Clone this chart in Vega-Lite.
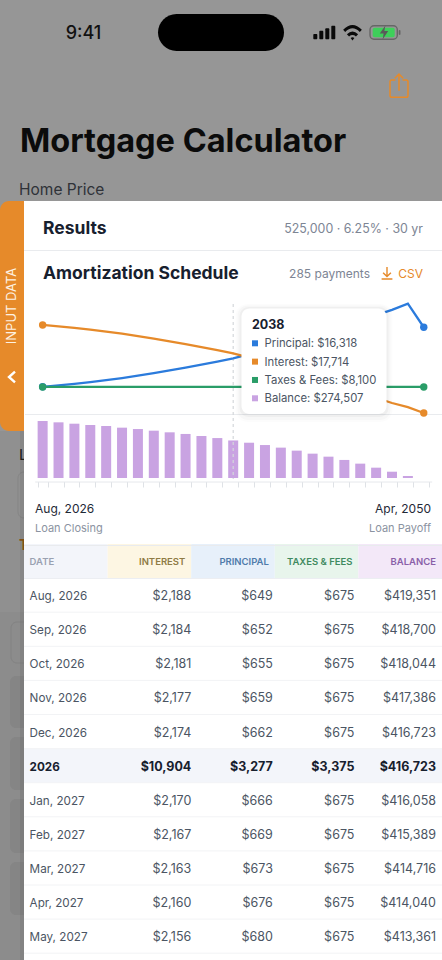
{
  "$schema": "https://vega.github.io/schema/vega-lite/v6.json",
  "autosize": {"type": "fit", "contains": "padding"},
  "padding": 0,
  "width": 442,
  "height": 960,
  "background": "#969696",
  "config": {"font": "Inter", "view": {"stroke": null}, "text": {"baseline": "middle", "align": "left", "dy": 1}},
  "data": {"values": [{}]},
  "datasets": {
    "yearly": [
      {"year": 2026, "measure": "Principal", "value": 8150}, {"year": 2026, "measure": "Interest", "value": 25894}, {"year": 2026, "measure": "Taxes & Fees", "value": 8100}, {"year": 2026, "measure": "Balance", "value": 416723},
      {"year": 2027, "measure": "Principal", "value": 8540}, {"year": 2027, "measure": "Interest", "value": 25500}, {"year": 2027, "measure": "Taxes & Fees", "value": 8100}, {"year": 2027, "measure": "Balance", "value": 407000},
      {"year": 2028, "measure": "Principal", "value": 9000}, {"year": 2028, "measure": "Interest", "value": 25050}, {"year": 2028, "measure": "Taxes & Fees", "value": 8100}, {"year": 2028, "measure": "Balance", "value": 397000},
      {"year": 2029, "measure": "Principal", "value": 9500}, {"year": 2029, "measure": "Interest", "value": 24550}, {"year": 2029, "measure": "Taxes & Fees", "value": 8100}, {"year": 2029, "measure": "Balance", "value": 387500},
      {"year": 2030, "measure": "Principal", "value": 10050}, {"year": 2030, "measure": "Interest", "value": 24000}, {"year": 2030, "measure": "Taxes & Fees", "value": 8100}, {"year": 2030, "measure": "Balance", "value": 380000},
      {"year": 2031, "measure": "Principal", "value": 10650}, {"year": 2031, "measure": "Interest", "value": 23400}, {"year": 2031, "measure": "Taxes & Fees", "value": 8100}, {"year": 2031, "measure": "Balance", "value": 368000},
      {"year": 2032, "measure": "Principal", "value": 11340}, {"year": 2032, "measure": "Interest", "value": 22700}, {"year": 2032, "measure": "Taxes & Fees", "value": 8100}, {"year": 2032, "measure": "Balance", "value": 358000},
      {"year": 2033, "measure": "Principal", "value": 12040}, {"year": 2033, "measure": "Interest", "value": 22000}, {"year": 2033, "measure": "Taxes & Fees", "value": 8100}, {"year": 2033, "measure": "Balance", "value": 346000},
      {"year": 2034, "measure": "Principal", "value": 12840}, {"year": 2034, "measure": "Interest", "value": 21200}, {"year": 2034, "measure": "Taxes & Fees", "value": 8100}, {"year": 2034, "measure": "Balance", "value": 334000},
      {"year": 2035, "measure": "Principal", "value": 13640}, {"year": 2035, "measure": "Interest", "value": 20400}, {"year": 2035, "measure": "Taxes & Fees", "value": 8100}, {"year": 2035, "measure": "Balance", "value": 322000},
      {"year": 2036, "measure": "Principal", "value": 14500}, {"year": 2036, "measure": "Interest", "value": 19550}, {"year": 2036, "measure": "Taxes & Fees", "value": 8100}, {"year": 2036, "measure": "Balance", "value": 307000},
      {"year": 2037, "measure": "Principal", "value": 15400}, {"year": 2037, "measure": "Interest", "value": 18650}, {"year": 2037, "measure": "Taxes & Fees", "value": 8100}, {"year": 2037, "measure": "Balance", "value": 292000},
      {"year": 2038, "measure": "Principal", "value": 16318}, {"year": 2038, "measure": "Interest", "value": 17714}, {"year": 2038, "measure": "Taxes & Fees", "value": 8100}, {"year": 2038, "measure": "Balance", "value": 274507},
      {"year": 2039, "measure": "Principal", "value": 17540}, {"year": 2039, "measure": "Interest", "value": 16500}, {"year": 2039, "measure": "Taxes & Fees", "value": 8100}, {"year": 2039, "measure": "Balance", "value": 258000},
      {"year": 2040, "measure": "Principal", "value": 18640}, {"year": 2040, "measure": "Interest", "value": 15400}, {"year": 2040, "measure": "Taxes & Fees", "value": 8100}, {"year": 2040, "measure": "Balance", "value": 241000},
      {"year": 2041, "measure": "Principal", "value": 19840}, {"year": 2041, "measure": "Interest", "value": 14200}, {"year": 2041, "measure": "Taxes & Fees", "value": 8100}, {"year": 2041, "measure": "Balance", "value": 222000},
      {"year": 2042, "measure": "Principal", "value": 21140}, {"year": 2042, "measure": "Interest", "value": 12900}, {"year": 2042, "measure": "Taxes & Fees", "value": 8100}, {"year": 2042, "measure": "Balance", "value": 200000},
      {"year": 2043, "measure": "Principal", "value": 22540}, {"year": 2043, "measure": "Interest", "value": 11500}, {"year": 2043, "measure": "Taxes & Fees", "value": 8100}, {"year": 2043, "measure": "Balance", "value": 178000},
      {"year": 2044, "measure": "Principal", "value": 24040}, {"year": 2044, "measure": "Interest", "value": 10000}, {"year": 2044, "measure": "Taxes & Fees", "value": 8100}, {"year": 2044, "measure": "Balance", "value": 156000},
      {"year": 2045, "measure": "Principal", "value": 25540}, {"year": 2045, "measure": "Interest", "value": 8500}, {"year": 2045, "measure": "Taxes & Fees", "value": 8100}, {"year": 2045, "measure": "Balance", "value": 132000},
      {"year": 2046, "measure": "Principal", "value": 27240}, {"year": 2046, "measure": "Interest", "value": 6800}, {"year": 2046, "measure": "Taxes & Fees", "value": 8100}, {"year": 2046, "measure": "Balance", "value": 105000},
      {"year": 2047, "measure": "Principal", "value": 28700}, {"year": 2047, "measure": "Interest", "value": 5000}, {"year": 2047, "measure": "Taxes & Fees", "value": 8100}, {"year": 2047, "measure": "Balance", "value": 75500},
      {"year": 2048, "measure": "Principal", "value": 30200}, {"year": 2048, "measure": "Interest", "value": 3500}, {"year": 2048, "measure": "Taxes & Fees", "value": 8100}, {"year": 2048, "measure": "Balance", "value": 46000},
      {"year": 2049, "measure": "Principal", "value": 32000}, {"year": 2049, "measure": "Interest", "value": 2300}, {"year": 2049, "measure": "Taxes & Fees", "value": 8100}, {"year": 2049, "measure": "Balance", "value": 14600},
      {"year": 2050, "measure": "Principal", "value": 25230}, {"year": 2050, "measure": "Interest", "value": 640}, {"year": 2050, "measure": "Taxes & Fees", "value": 8100}, {"year": 2050, "measure": "Balance", "value": 0}
    ],
    "columns": [
      {"date": "header", "column": "DATE"}, {"date": "header", "column": "INTEREST"}, {"date": "header", "column": "PRINCIPAL"}, {"date": "header", "column": "TAXES & FEES"}, {"date": "header", "column": "BALANCE"}
    ],
    "schedule": [
      {"date": "Aug, 2026", "measure": "Interest", "value": 2188}, {"date": "Aug, 2026", "measure": "Principal", "value": 649}, {"date": "Aug, 2026", "measure": "Taxes & Fees", "value": 675}, {"date": "Aug, 2026", "measure": "Balance", "value": 419351},
      {"date": "Sep, 2026", "measure": "Interest", "value": 2184}, {"date": "Sep, 2026", "measure": "Principal", "value": 652}, {"date": "Sep, 2026", "measure": "Taxes & Fees", "value": 675}, {"date": "Sep, 2026", "measure": "Balance", "value": 418700},
      {"date": "Oct, 2026", "measure": "Interest", "value": 2181}, {"date": "Oct, 2026", "measure": "Principal", "value": 655}, {"date": "Oct, 2026", "measure": "Taxes & Fees", "value": 675}, {"date": "Oct, 2026", "measure": "Balance", "value": 418044},
      {"date": "Nov, 2026", "measure": "Interest", "value": 2177}, {"date": "Nov, 2026", "measure": "Principal", "value": 659}, {"date": "Nov, 2026", "measure": "Taxes & Fees", "value": 675}, {"date": "Nov, 2026", "measure": "Balance", "value": 417386},
      {"date": "Dec, 2026", "measure": "Interest", "value": 2174}, {"date": "Dec, 2026", "measure": "Principal", "value": 662}, {"date": "Dec, 2026", "measure": "Taxes & Fees", "value": 675}, {"date": "Dec, 2026", "measure": "Balance", "value": 416723},
      {"date": "2026", "measure": "Interest", "value": 10904}, {"date": "2026", "measure": "Principal", "value": 3277}, {"date": "2026", "measure": "Taxes & Fees", "value": 3375}, {"date": "2026", "measure": "Balance", "value": 416723},
      {"date": "Jan, 2027", "measure": "Interest", "value": 2170}, {"date": "Jan, 2027", "measure": "Principal", "value": 666}, {"date": "Jan, 2027", "measure": "Taxes & Fees", "value": 675}, {"date": "Jan, 2027", "measure": "Balance", "value": 416058},
      {"date": "Feb, 2027", "measure": "Interest", "value": 2167}, {"date": "Feb, 2027", "measure": "Principal", "value": 669}, {"date": "Feb, 2027", "measure": "Taxes & Fees", "value": 675}, {"date": "Feb, 2027", "measure": "Balance", "value": 415389},
      {"date": "Mar, 2027", "measure": "Interest", "value": 2163}, {"date": "Mar, 2027", "measure": "Principal", "value": 673}, {"date": "Mar, 2027", "measure": "Taxes & Fees", "value": 675}, {"date": "Mar, 2027", "measure": "Balance", "value": 414716},
      {"date": "Apr, 2027", "measure": "Interest", "value": 2160}, {"date": "Apr, 2027", "measure": "Principal", "value": 676}, {"date": "Apr, 2027", "measure": "Taxes & Fees", "value": 675}, {"date": "Apr, 2027", "measure": "Balance", "value": 414040},
      {"date": "May, 2027", "measure": "Interest", "value": 2156}, {"date": "May, 2027", "measure": "Principal", "value": 680}, {"date": "May, 2027", "measure": "Taxes & Fees", "value": 675}, {"date": "May, 2027", "measure": "Balance", "value": 413361}
    ]
  },
  "resolve": {"scale": {"x": "independent", "y": "independent", "color": "independent", "fill": "independent"}, "axis": {"x": "independent", "y": "independent"}},
  "layer": [
    {"mark": {"type": "rect", "x": 0, "x2": 24, "y": 431, "y2": 612, "fill": "#909090"}},
    {"mark": {"type": "rect", "x": 0, "x2": 24, "y": 612, "y2": 960, "fill": "#8c8c8c"}},
    {"mark": {"type": "rect", "x": 18, "x2": 40, "y": 472, "y2": 518, "fill": "#909090", "stroke": "#858585", "cornerRadius": 6}},
    {"mark": {"type": "rect", "x": 11, "x2": 40, "y": 622, "y2": 663, "fill": "#8c8c8c", "stroke": "#828282", "cornerRadius": 6}},
    {"mark": {"type": "rect", "x": 10, "x2": 40, "y": 676, "y2": 728, "fill": "#858585", "cornerRadius": 6}},
    {"mark": {"type": "rect", "x": 10, "x2": 40, "y": 737, "y2": 790, "fill": "#858585", "cornerRadius": 6}},
    {"mark": {"type": "rect", "x": 10, "x2": 40, "y": 799, "y2": 853, "fill": "#858585", "cornerRadius": 6}},
    {"mark": {"type": "rect", "x": 10, "x2": 40, "y": 862, "y2": 915, "fill": "#858585", "cornerRadius": 6}},
    {"mark": {"type": "text", "text": "9:41", "x": 83.5, "y": 32.5, "align": "center", "fontSize": 18, "fontWeight": 500, "fill": "#111111"}},
    {"mark": {"type": "rect", "x": 158, "x2": 284, "y": 14, "y2": 51, "fill": "#000000", "cornerRadius": 18.5}},
    {"mark": {"type": "rect", "x": 313.3, "x2": 317.3, "y": 34, "y2": 39.3, "fill": "#0a0a0a", "cornerRadius": 1}},
    {"mark": {"type": "rect", "x": 319.3, "x2": 323.3, "y": 30.7, "y2": 39.3, "fill": "#0a0a0a", "cornerRadius": 1}},
    {"mark": {"type": "rect", "x": 325.3, "x2": 329.3, "y": 28.3, "y2": 39.3, "fill": "#0a0a0a", "cornerRadius": 1}},
    {"mark": {"type": "rect", "x": 331.3, "x2": 335.3, "y": 25.7, "y2": 39.3, "fill": "#0a0a0a", "cornerRadius": 1}},
    {"mark": {"type": "point", "x": 352.5, "y": 32.5, "size": 350, "filled": true, "opacity": 1, "fill": "#0a0a0a", "shape": "M-1,-0.3 Q0,-1.3 1,-0.3 L0.78,-0.05 Q0,-0.85 -0.78,-0.05Z M-0.6,0.18 Q0,-0.38 0.6,0.18 L0.37,0.42 Q0,0.1 -0.37,0.42Z M-0.2,0.6 Q0,0.42 0.2,0.6 L0,0.85Z"}},
    {"mark": {"type": "rect", "x": 370, "x2": 397.3, "y": 25.7, "y2": 39.3, "fill": "#969696", "stroke": "#666666", "strokeWidth": 1.4, "cornerRadius": 4}},
    {"mark": {"type": "rect", "x": 372.7, "x2": 394.7, "y": 27.7, "y2": 37.3, "fill": "#3ecf5a", "cornerRadius": 2}},
    {"mark": {"type": "rect", "x": 398.7, "x2": 400.5, "y": 30, "y2": 35, "fill": "#666666", "cornerRadius": 1}},
    {"mark": {"type": "point", "x": 384, "y": 32.5, "size": 196, "filled": true, "opacity": 1, "fill": "#5a5a5a", "shape": "M0.2,-1 L-0.6,0.15 L-0.05,0.15 L-0.2,1 L0.6,-0.2 L0.05,-0.2Z"}},
    {"mark": {"type": "point", "x": 399, "y": 86, "size": 576, "filled": false, "opacity": 1, "stroke": "#e68a2a", "strokeWidth": 1.5, "shape": "M-0.3,-0.5 L-0.6,-0.5 Q-0.75,-0.5 -0.75,-0.35 L-0.75,0.79 Q-0.75,0.94 -0.6,0.94 L0.6,0.94 Q0.75,0.94 0.75,0.79 L0.75,-0.35 Q0.75,-0.5 0.6,-0.5 L0.3,-0.5 M0,0.4 L0,-1 M-0.35,-0.65 L0,-1 L0.35,-0.65"}},
    {"mark": {"type": "text", "text": "Mortgage Calculator", "x": 20, "y": 141, "fontSize": 32.5, "fontWeight": 700, "fill": "#0b0b0b"}},
    {"mark": {"type": "text", "text": "Home Price", "x": 19, "y": 188.5, "fontSize": 15.5, "fill": "#2f3238"}},
    {"mark": {"type": "text", "text": "L", "x": 19, "y": 454, "fontSize": 15, "fill": "#222222"}},
    {"mark": {"type": "text", "text": "T", "x": 19, "y": 545, "fontSize": 14, "fontWeight": 700, "fill": "#8a5614"}},
    {"mark": {"type": "rect", "x": 20, "x2": 24, "y": 431, "y2": 960, "fill": "#000000", "opacity": 0.06}},
    {"mark": {"type": "rect", "x": 0, "x2": 40, "y": 201, "y2": 431, "fill": "#e68a2a", "cornerRadiusTopLeft": 9, "cornerRadiusBottomLeft": 9}},
    {"mark": {"type": "rect", "x": 24, "x2": 442, "y": 201, "y2": 960, "fill": "#ffffff"}},
    {"mark": {"type": "text", "text": "INPUT DATA", "x": 12, "y": 306, "align": "center", "angle": 270, "dy": 0, "fontSize": 13, "fontWeight": 400, "fill": "#fdf1e2"}},
    {"mark": {"type": "point", "x": 12, "y": 377, "size": 144, "filled": false, "opacity": 1, "stroke": "#ffffff", "strokeWidth": 2.4, "shape": "M0.5,-0.9 L-0.5,0 L0.5,0.9"}},
    {"mark": {"type": "text", "text": "Results", "x": 43, "y": 228, "fontSize": 17.5, "fontWeight": 700, "fill": "#17202e"}},
    {"mark": {"type": "text", "text": "525,000 · 6.25% · 30 yr", "x": 423, "y": 228, "align": "right", "fontSize": 12.4, "fill": "#7d8594"}},
    {"mark": {"type": "rect", "x": 24, "x2": 442, "y": 250, "y2": 251, "fill": "#e9ebee"}},
    {"mark": {"type": "text", "text": "Amortization Schedule", "x": 43, "y": 273, "fontSize": 17.5, "fontWeight": 700, "fill": "#17202e"}},
    {"mark": {"type": "text", "text": "285 payments", "x": 370, "y": 273, "align": "right", "fontSize": 12, "fill": "#7d8594"}},
    {"mark": {"type": "point", "x": 387, "y": 273, "size": 144, "filled": false, "opacity": 1, "stroke": "#e68a2a", "strokeWidth": 1.4, "shape": "M0,-1 L0,0.55 M-0.65,-0.05 L0,0.6 L0.65,-0.05 M-0.9,1 L0.9,1"}},
    {"mark": {"type": "text", "text": "CSV", "x": 423, "y": 273, "align": "right", "fontSize": 12, "fill": "#e68a2a"}},
    {"mark": {"type": "rect", "x": 25, "x2": 442, "y": 414, "y2": 415, "fill": "#e9ebee"}},
    {
      "data": {"name": "yearly"},
      "transform": [{"filter": "datum.measure == 'Balance'"}],
      "mark": {"type": "bar", "fill": "#c9a3e2"},
      "encoding": {
        "x": {
          "field": "year", "type": "ordinal",
          "scale": {"type": "band", "domain": [2026, 2027, 2028, 2029, 2030, 2031, 2032, 2033, 2034, 2035, 2036, 2037, 2038, 2039, 2040, 2041, 2042, 2043, 2044, 2045, 2046, 2047, 2048, 2049, 2050], "range": [34.7, 431.7], "paddingInner": 0.37, "paddingOuter": 0.185},
          "axis": {"orient": "bottom", "offset": -478.5, "labels": false, "title": null, "grid": false, "tickBand": "extent", "tickSize": 5.5, "tickColor": "#dfe2e6", "domainColor": "#e6e8ec", "zindex": 1}
        },
        "y": {"field": "value", "type": "quantitative", "scale": {"domain": [0, 416723], "range": [478, 421], "nice": false}, "axis": null}
      }
    },
    {
      "data": {"name": "yearly"},
      "resolve": {"scale": {"y": "independent"}},
      "encoding": {
        "x": {
          "field": "year", "type": "ordinal",
          "scale": {"type": "band", "domain": [2026, 2027, 2028, 2029, 2030, 2031, 2032, 2033, 2034, 2035, 2036, 2037, 2038, 2039, 2040, 2041, 2042, 2043, 2044, 2045, 2046, 2047, 2048, 2049, 2050], "range": [34.7, 431.7], "paddingInner": 0.37, "paddingOuter": 0.185},
          "axis": null
        }
      },
      "layer": [
        {
          "transform": [{"filter": "datum.year == 2038 && datum.measure == 'Balance'"}],
          "mark": {"type": "rule", "stroke": "#d4d7db", "strokeWidth": 1.2, "strokeDash": [3, 3]},
          "encoding": {"y": {"value": 304}, "y2": {"value": 479}}
        },
        {
          "transform": [{"filter": "datum.measure != 'Balance'"}],
          "encoding": {
            "y": {"field": "value", "type": "quantitative", "scale": {"domain": [0, 34000], "range": [415.2, 296.7], "nice": false}, "axis": null},
            "color": {"field": "measure", "type": "nominal", "legend": null, "scale": {"domain": ["Interest", "Principal", "Taxes & Fees"], "range": ["#e68a2a", "#2b7bdc", "#2a9d68"]}}
          },
          "layer": [
            {"mark": {"type": "line", "strokeWidth": 2.3}},
            {"transform": [{"filter": "datum.year == 2026 || datum.year == 2050"}], "mark": {"type": "circle", "size": 55, "opacity": 1}}
          ]
        }
      ]
    },
    {"mark": {"type": "rect", "x": 235.5, "x2": 392.5, "y": 304, "y2": 422, "fill": "#000000", "opacity": 0.012, "cornerRadius": 12}},
    {"mark": {"type": "rect", "x": 237.5, "x2": 390.5, "y": 305.5, "y2": 420, "fill": "#000000", "opacity": 0.02, "cornerRadius": 10}},
    {"mark": {"type": "rect", "x": 239.5, "x2": 388.5, "y": 307, "y2": 417, "fill": "#000000", "opacity": 0.03, "cornerRadius": 9}},
    {"mark": {"type": "rect", "x": 241.5, "x2": 386.5, "y": 308.5, "y2": 414, "fill": "#ffffff", "cornerRadius": 8}},
    {"mark": {"type": "text", "text": "2038", "x": 252, "y": 324, "fontSize": 12.5, "fontWeight": 700, "fill": "#17202e"}},
    {
      "data": {"name": "yearly"},
      "transform": [
        {"filter": "datum.year == 2038"},
        {"calculate": "datum.measure + ': ' + format(datum.value, '$,d')", "as": "line"}
      ],
      "encoding": {
        "y": {"field": "measure", "type": "nominal", "scale": {"type": "point", "domain": ["Principal", "Interest", "Taxes & Fees", "Balance"], "range": [343.3, 398.3], "padding": 0}, "axis": null}
      },
      "layer": [
        {
          "mark": {"type": "square", "size": 36, "x": 255, "opacity": 1},
          "encoding": {"color": {"field": "measure", "type": "nominal", "legend": null, "scale": {"domain": ["Principal", "Interest", "Taxes & Fees", "Balance"], "range": ["#2b7bdc", "#e68a2a", "#2a9d68", "#c9a3e2"]}}}
        },
        {
          "mark": {"type": "text", "x": 264.5, "fontSize": 11.3, "fill": "#4b5563"},
          "encoding": {"text": {"field": "line", "type": "nominal"}}
        }
      ]
    },
    {"mark": {"type": "text", "text": "Aug, 2026", "x": 35, "y": 508, "fontSize": 12, "fill": "#1f2937"}},
    {"mark": {"type": "text", "text": "Loan Closing", "x": 35, "y": 528, "fontSize": 11, "fill": "#8b93a1"}},
    {"mark": {"type": "text", "text": "Apr, 2050", "x": 431, "y": 508, "align": "right", "fontSize": 12, "fill": "#1f2937"}},
    {"mark": {"type": "text", "text": "Loan Payoff", "x": 431, "y": 528, "align": "right", "fontSize": 11, "fill": "#8b93a1"}},
    {
      "resolve": {"scale": {"x": "independent", "color": "independent", "fill": "independent"}},
      "encoding": {
        "y": {
          "field": "date", "type": "nominal", "axis": null,
          "scale": {"type": "band", "domain": ["header", "Aug, 2026", "Sep, 2026", "Oct, 2026", "Nov, 2026", "Dec, 2026", "2026", "Jan, 2027", "Feb, 2027", "Mar, 2027", "Apr, 2027", "May, 2027"], "range": [544, 953.2], "padding": 0}
        }
      },
      "layer": [
        {
          "data": {"name": "schedule"},
          "transform": [{"filter": "datum.date == '2026' && datum.measure == 'Balance'"}],
          "mark": {"type": "rect", "x": 24, "x2": 442, "fill": "#f3f5fa"}
        },
        {
          "data": {"name": "schedule"},
          "transform": [{"filter": "datum.measure == 'Balance'"}],
          "mark": {"type": "rule", "stroke": "#f2f3f5", "x": 24, "x2": 442},
          "encoding": {"y": {"field": "date", "type": "nominal", "bandPosition": 1}}
        },
        {
          "data": {"name": "columns"},
          "mark": {"type": "rect"},
          "encoding": {
            "x": {"field": "column", "type": "nominal", "axis": null, "scale": {"type": "band", "domain": ["DATE", "INTEREST", "PRINCIPAL", "TAXES & FEES", "BALANCE"], "range": [24, 442], "padding": 0}},
            "fill": {"field": "column", "type": "nominal", "legend": null, "scale": {"domain": ["DATE", "INTEREST", "PRINCIPAL", "TAXES & FEES", "BALANCE"], "range": ["#f3f5fa", "#fdf6e3", "#e7f0fa", "#e8f5ec", "#f3e8f8"]}}
          }
        },
        {
          "data": {"name": "columns"},
          "transform": [{"filter": "datum.column == 'DATE'"}],
          "mark": {"type": "text", "x": 29.6, "fontSize": 9.5, "fontWeight": 600, "fill": "#9aa1b1"},
          "encoding": {"text": {"field": "column", "type": "nominal"}}
        },
        {
          "data": {"name": "columns"},
          "transform": [{"filter": "datum.column != 'DATE'"}],
          "mark": {"type": "text", "align": "right", "fontSize": 9.5, "fontWeight": 600},
          "encoding": {
            "x": {"field": "column", "type": "nominal", "axis": null, "scale": {"type": "point", "domain": ["INTEREST", "PRINCIPAL", "TAXES & FEES", "BALANCE"], "range": [185.3, 436], "padding": 0}},
            "text": {"field": "column", "type": "nominal"},
            "fill": {"field": "column", "type": "nominal", "legend": null, "scale": {"domain": ["INTEREST", "PRINCIPAL", "TAXES & FEES", "BALANCE"], "range": ["#8f7b45", "#4f7bab", "#3f8a60", "#8a5fa8"]}}
          }
        },
        {
          "data": {"name": "schedule"},
          "transform": [{"filter": "datum.measure == 'Balance' && datum.date != '2026'"}],
          "mark": {"type": "text", "x": 29.6, "fontSize": 11.7, "fill": "#4b5563"},
          "encoding": {"text": {"field": "date", "type": "nominal"}}
        },
        {
          "data": {"name": "schedule"},
          "transform": [{"filter": "datum.measure == 'Balance' && datum.date == '2026'"}],
          "mark": {"type": "text", "x": 29.6, "fontSize": 11.7, "fontWeight": 700, "fill": "#17202e"},
          "encoding": {"text": {"field": "date", "type": "nominal"}}
        },
        {
          "data": {"name": "schedule"},
          "transform": [{"filter": "datum.date != '2026'"}],
          "mark": {"type": "text", "align": "right", "fontSize": 12.5, "fill": "#4b5563"},
          "encoding": {
            "x": {"field": "measure", "type": "nominal", "axis": null, "scale": {"type": "point", "domain": ["Interest", "Principal", "Taxes & Fees", "Balance"], "range": [191.3, 436], "padding": 0}},
            "text": {"field": "value", "type": "quantitative", "format": "$,d"}
          }
        },
        {
          "data": {"name": "schedule"},
          "transform": [{"filter": "datum.date == '2026'"}],
          "mark": {"type": "text", "align": "right", "fontSize": 12.5, "fontWeight": 700, "fill": "#17202e"},
          "encoding": {
            "x": {"field": "measure", "type": "nominal", "axis": null, "scale": {"type": "point", "domain": ["Interest", "Principal", "Taxes & Fees", "Balance"], "range": [191.3, 436], "padding": 0}},
            "text": {"field": "value", "type": "quantitative", "format": "$,d"}
          }
        }
      ]
    },
    {"mark": {"type": "rect", "x": 24, "x2": 442, "y": 545, "y2": 546, "fill": "#e9ebee"}},
    {"mark": {"type": "rect", "x": 24, "x2": 442, "y": 578, "y2": 579, "fill": "#eceef2"}}
  ]
}
